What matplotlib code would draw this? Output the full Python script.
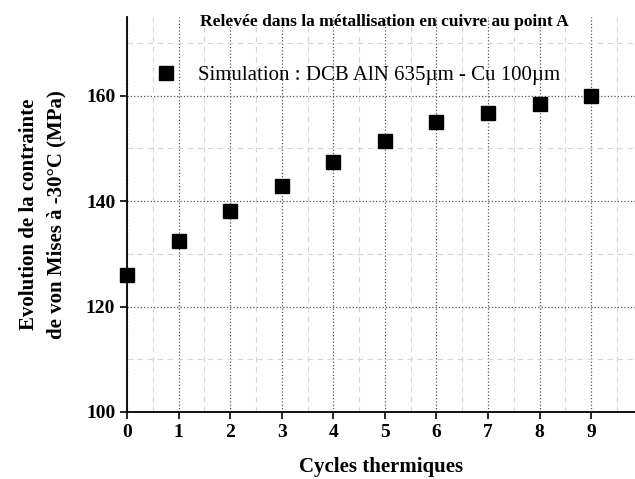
import matplotlib.pyplot as plt
from matplotlib.ticker import MultipleLocator

plt.rcParams["font.family"] = ["Liberation Serif", "DejaVu Serif"]

cycles = [0, 1, 2, 3, 4, 5, 6, 7, 8, 9]
stress = [125.9, 132.5, 138.1, 142.9, 147.4, 151.4, 155.1, 156.8, 158.4, 159.9]

fig = plt.figure(figsize=(6.35, 4.79), dpi=100)
ax = fig.add_axes([0.2, 0.14, 0.8, 0.825])

ax.plot(cycles, stress, "s", color="black", markersize=10, linestyle="none",
        label="Simulation : DCB AlN 635µm - Cu 100µm", clip_on=False, zorder=5)

ax.set_xlim(0, 9.85)
ax.set_ylim(100, 175)
ax.xaxis.set_major_locator(MultipleLocator(1))
ax.xaxis.set_minor_locator(MultipleLocator(0.5))
ax.yaxis.set_major_locator(MultipleLocator(20))
ax.yaxis.set_minor_locator(MultipleLocator(10))
ax.set_xticks(cycles)

ax.grid(which="major", color="#555555", linestyle=":", linewidth=0.9)
ax.grid(which="minor", color="#d6d6d6", linestyle=(0, (5, 4)), linewidth=0.8)

for side in ("top", "right"):
    ax.spines[side].set_visible(False)
for side in ("left", "bottom"):
    ax.spines[side].set_linewidth(1.3)

ax.tick_params(which="major", length=5, width=1.2, labelsize=14)
ax.tick_params(which="minor", length=0)
for lbl in ax.get_xticklabels() + ax.get_yticklabels():
    lbl.set_fontweight("bold")

ax.set_xlabel("Cycles thermiques", fontsize=15, fontweight="bold", labelpad=12)
ax.set_ylabel("Evolution de la contrainte\nde von Mises à -30°C (MPa)",
              fontsize=15, fontweight="bold", labelpad=14, linespacing=1.5)

fig.text(0.605, 0.955, "Relevée dans la métallisation en cuivre au point A",
         ha="center", va="center", fontsize=12.5, fontweight="bold")

ax.legend(loc="upper left", bbox_to_anchor=(0.02, 0.898), frameon=False,
          fontsize=15, handletextpad=0.5, borderaxespad=0)

fig.savefig("out.png", dpi=100)
